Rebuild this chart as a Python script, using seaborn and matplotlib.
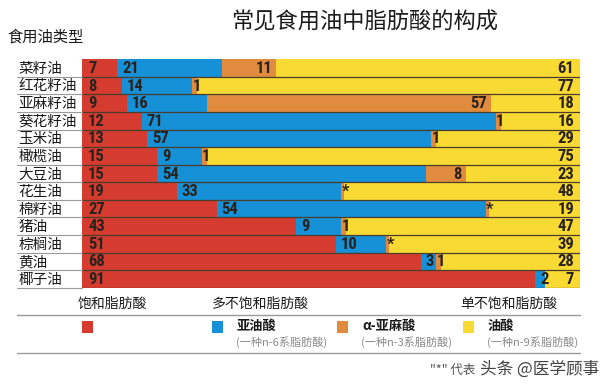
import matplotlib.pyplot as plt
from matplotlib.patches import Rectangle
from matplotlib import font_manager
import matplotlib.transforms as mtransforms
import seaborn as sns
import numpy as np
import pandas as pd

# fatty acid make-up of common cooking oils (percent)
oils = ['菜籽油', '红花籽油', '亚麻籽油', '葵花籽油', '玉米油', '橄榄油', '大豆油',
        '花生油', '棉籽油', '猪油', '棕榈油', '黄油', '椰子油']
saturated = [7, 8, 9, 12, 13, 15, 15, 19, 27, 43, 51, 68, 91]
linoleic = [21, 14, 16, 71, 57, 9, 54, 33, 54, 9, 10, 3, 2]
# "*" = trace amount, drawn as a thin sliver
alpha_linolenic = [11, 1, 57, 1, 1, 1, 8, 0.6, 0.6, 1, 0.6, 1, 0]
alpha_labels = ['11', '1', '57', '1', '1', '1', '8', '*', '*', '1', '*', '1', '']
oleic = [61, 77, 18, 16, 29, 75, 23, 48, 19, 47, 39, 28, 7]

RED, BLUE, ORANGE, YELLOW = '#d63b30', '#1690d6', '#e08b3e', '#f8da33'
TXT = '#2a221d'

df = pd.DataFrame({'oil': oils, 'sat': saturated, 'lin': linoleic,
                   'ala': alpha_linolenic, 'ole': oleic})
df['c1'] = df['sat']
df['c2'] = df['c1'] + df['lin']
df['c3'] = df['c2'] + df['ala']
df['c4'] = df['c3'] + df['ole']

sns.set_theme(style='white')
plt.rcParams['font.family'] = ['Noto Sans CJK SC', 'DejaVu Sans']

# pick a narrow font for the numbers if one is installed
names = {f.name for f in font_manager.fontManager.ttflist}
num_font, num_stretch = 'DejaVu Sans', 'condensed'
for cand in ['Liberation Sans Narrow', 'Roboto Condensed', 'Open Sans Condensed']:
    if cand in names:
        num_font, num_stretch = cand, 'normal'
        break

fig = plt.figure(figsize=(6, 3.89), dpi=100)
fig.patch.set_facecolor('white')
ax = fig.add_axes([0.137, 0.26, 0.83, 0.588])

# stacked bars: draw cumulative totals from the longest down
for col, colr in [('c4', YELLOW), ('c3', ORANGE), ('c2', BLUE), ('c1', RED)]:
    sns.barplot(data=df, x=col, y='oil', orient='h', color=colr, saturation=1,
                width=1.0, linewidth=0, ax=ax)

ax.set_xlim(0, 100)
ax.set_ylim(len(oils) - 0.5, -0.5)
ax.set_xticks([])
ax.set_yticks([])
ax.set_xlabel('')
ax.set_ylabel('')
for s in ax.spines.values():
    s.set_visible(False)

# row separators
for i in range(len(oils)):
    ax.axhline(i + 0.5, color='#4a3d2c', lw=0.9)

blend = mtransforms.blended_transform_factory(ax.transAxes, ax.transData)
nkw = dict(fontsize=12, fontweight='bold', family=num_font, fontstretch=num_stretch,
           color=TXT, va='center')
for i, row in df.iterrows():
    ax.text(1.2, i + 0.03, str(row['sat']), ha='left', **nkw)
    ax.text(row['c1'] + 1.0, i + 0.03, str(row['lin']), ha='left', **nkw)
    lab = alpha_labels[i]
    if lab:
        if row['ala'] >= 5:
            ax.text(row['c3'] - 0.8, i + 0.03, lab, ha='right', **nkw)
        else:
            ax.text(row['c2'] + 0.1, i + 0.03, lab, ha='left', **nkw)
    ax.text(98.8, i + 0.03, str(row['ole']), ha='right', **nkw)
    # left row label with underline
    ax.text(-0.128, i + 0.05, row['oil'], transform=blend, ha='left', va='center',
            fontsize=10.5, color='#1a1a1a')
    ax.plot([-0.13, 0], [i + 0.5, i + 0.5], transform=blend, color='#9a9a9a',
            lw=0.8, clip_on=False)

# titles
fig.text(0.608, 0.943, '常见食用油中脂肪酸的构成', ha='center', va='center',
         fontsize=16, color='#1a1a1a')
fig.text(0.013, 0.905, '食用油类型', ha='left', va='center', fontsize=11, color='#1a1a1a')

# legend block
H = 389.0
def fy(y):
    return 1 - y / H

fig.text(78 / 600, fy(304), '饱和脂肪酸', fontsize=10, va='center', color='#1a1a1a')
fig.text(212 / 600, fy(304), '多不饱和脂肪酸', fontsize=10, va='center', color='#1a1a1a')
fig.text(460 / 600, fy(304), '单不饱和脂肪酸', fontsize=10, va='center', color='#1a1a1a')
for yy in (315, 353):
    fig.add_artist(plt.Line2D([17 / 600, 580 / 600], [fy(yy), fy(yy)],
                              color='#9a9a9a', lw=1.0))

items = [(82, RED, '', ''), (212, BLUE, '亚油酸', '(一种n-6系脂肪酸)'),
         (337, ORANGE, 'α-亚麻酸', '(一种n-3系脂肪酸)'),
         (463, YELLOW, '油酸', '(一种n-9系脂肪酸)')]
for x0, colr, name, sub in items:
    fig.add_artist(Rectangle((x0 / 600, fy(333)), 11 / 600, 12 / H,
                             facecolor=colr, edgecolor='none'))
    if name:
        fig.text((x0 + 25) / 600, fy(326), name, fontsize=9.5, fontweight='bold',
                 va='center', color='#1a1a1a')
        fig.text((x0 + 24) / 600, fy(342), sub, fontsize=8, va='center', color='#8a8a8a')

fig.text(430 / 600, fy(370), '"*" 代表', fontsize=9, va='center', color='#555555')
fig.text(480 / 600, fy(369), '头条 @医学顾事', fontsize=12, va='center', color='#444444')

fig.savefig('out.png', dpi=100, facecolor='white')
